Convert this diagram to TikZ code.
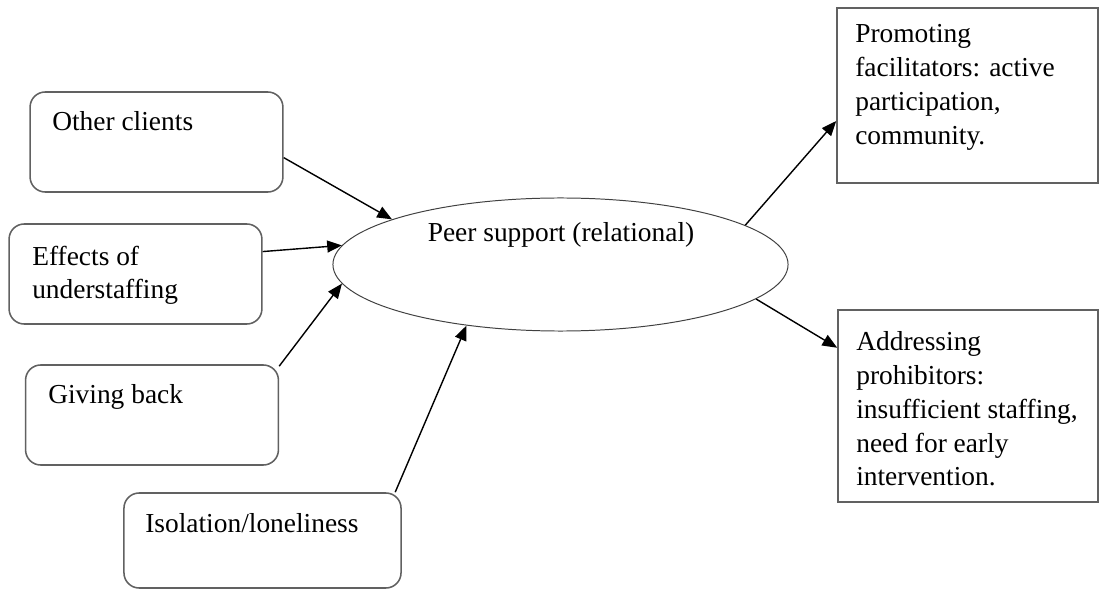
\documentclass[tikz,border=0pt]{standalone}
\usepackage{fontspec}
\setmainfont{Liberation Serif}
\usetikzlibrary{arrows.meta,shapes.geometric}

\tikzset{
  rbox/.style={draw=black!62, line width=1.1pt, rounded corners=0.38cm, minimum width=6.32cm, minimum height=2.5cm},
  sbox/.style={draw=black!62, line width=1.1pt, minimum width=6.5cm},
  txt/.style={anchor=north west, inner sep=0pt, align=left, font=\fontsize{19.5}{24}\selectfont},
  arr/.style={line width=1pt, -{Triangle[length=10.5pt,width=8.5pt]}}
}

\begin{document}
\begin{tikzpicture}[x=0.025cm, y=-0.025cm]
	\useasboundingbox (0,0) rectangle (1099,590);
	% left boxes
	\node[rbox] (oc) at (156.5,142) {};
	\node[rbox] (ef) at (135.5,274) {};
	\node[rbox] (gb) at (152,415) {};
	\node[rbox, minimum width=6.925cm, minimum height=2.375cm] (il) at (262.5,540.5) {};
	\node[txt] (octxt) at (52,111.5) {Other clients};
	\node[txt] (eftxt) at (32,245.5) {Effects of\\understaffing};
	\node[txt] (gbtxt) at (48,384.5) {Giving back};
	\node[txt] (iltxt) at (145,513.5) {Isolation/loneliness};
	% centre
	\node[ellipse, draw=black!75, line width=0.7pt, minimum width=11.375cm, minimum height=3.325cm] (peer) at (560.5,264.5) {};
	\node[txt, anchor=base] (peertxt) at (561,242) {Peer support (relational)};
	% right boxes
	\node[sbox, minimum width=6.525cm, minimum height=4.375cm] (pf) at (967.5,95.5) {};
	\node[sbox, minimum height=4.8cm] (ap) at (968,406) {};
	\node[txt] (pftxt) at (855,24.5) {Promoting\\facilitators: active\\participation,\\community.};
	\node[txt] (aptxt) at (856,331.5) {Addressing\\prohibitors:\\insufficient staffing,\\need for early\\intervention.};
	% arrows
	\draw[arr] (oc.-7.1) -- (peer.165.3);
	\draw[arr] (ef.10.7) -- (peer.175.8);
	\draw[arr] (gb.21.4) -- (peer.185.8);
	\draw[arr] (il.20.5) -- (peer.213.1);
	\draw[arr] (peer.12.7) -- (pf.191.9);
	\draw[arr] (peer.350.8) -- (ap.156.7);
\end{tikzpicture}
\end{document}
